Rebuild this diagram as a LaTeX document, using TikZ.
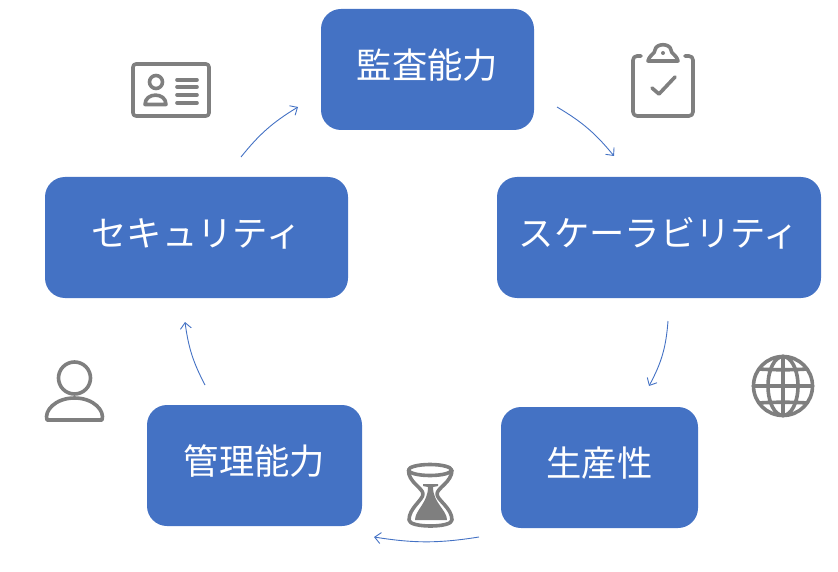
\documentclass[tikz,border=0pt]{standalone}
\usepackage{fontspec}
\usetikzlibrary{arrows.meta}
\setmainfont{Noto Sans CJK JP}
\newcommand{\boxfill}{boxblue}
\definecolor{boxblue}{HTML}{4472C4}
\definecolor{icongray}{HTML}{7F7F7F}
\tikzset{
    stagebox/.style = {shape = rectangle, rounded corners = 20pt, fill = \boxfill, text = white, minimum height = 121pt, inner sep = 0pt, text height = 30pt, text depth = 12pt, font = \fontsize{35.3}{35.3}\selectfont},
    cycleline/.style = {draw = boxblue, line width = 0.9pt, -{Straight Barb[length=6pt, width=11pt, line width=0.9pt]}},
    iconline/.style = {draw = icongray, line width = 3.6pt, line cap = round, line join = round}
}

\begin{document}
\begin{tikzpicture}[x=1pt, y=-1pt]
        \useasboundingbox (0,0) rectangle (838,572);
        \node[stagebox, minimum width = 213pt] (audit) at (427.5,69.5) {監査能力};
        \node[stagebox, minimum width = 324pt] (scale) at (659,237.5) {スケーラビリティ};
        \node[stagebox, minimum width = 197pt] (prod) at (599.5,467.5) {生産性};
        \node[stagebox, minimum width = 215pt] (manage) at (254.5,465.5) {管理能力};
        \node[stagebox, minimum width = 303pt] (secure) at (196.5,237.5) {セキュリティ};
        \coordinate (a1) at (557,107);
        \coordinate (a2) at (614,156);
        \coordinate (b1) at (668,321);
        \coordinate (b2) at (649,386);
        \coordinate (c1) at (479,537);
        \coordinate (c2) at (374,537);
        \coordinate (d1) at (205,385);
        \coordinate (d2) at (185,322);
        \coordinate (e1) at (241,157);
        \coordinate (e2) at (298,107);
        \draw[cycleline] (a1) to[bend left=10] (a2);
        \draw[cycleline] (b1) to[bend left=12] (b2);
        \draw[cycleline] (c1) to[bend left=9] (c2);
        \draw[cycleline] (d1) to[bend left=10] (d2);
        \draw[cycleline] (e1) to[bend left=10] (e2);
        % card
        \draw[iconline, rounded corners=3pt] (133,64) rectangle (209,116);
        \draw[iconline] (156,82) circle (6.5);
        \draw[iconline] (145,104.5) .. controls (145,92) and (166,92) .. (166,104.5) -- cycle;
        \foreach \y in {80,87,95,103} {
            \draw[iconline] (177,\y) -- (197,\y);
        }
        % clipboard
        \draw[iconline, rounded corners=4pt] (641,56) -- (633,56) -- (633,116) -- (693,116) -- (693,56) -- (685,56);
        \draw[iconline] (648,61) .. controls (650,54) and (655,54) .. (655,50) .. controls (656,43) and (670,43) .. (671,50) .. controls (671,54) and (676,54) .. (678,61) -- cycle;
        \fill[icongray] (663,53) circle (2);
        \draw[iconline] (652,88) -- (659,94) -- (675,77);
        % globe
        \draw[iconline] (783,386) circle (29.5);
        \draw[iconline] (783,386) ellipse (15 and 29.5);
        \draw[iconline] (783,356.5) -- (783,415.5);
        \draw[iconline] (753.5,386) -- (812.5,386);
        \draw[iconline] (759,369) .. controls (772,370) and (794,370) .. (807,369);
        \draw[iconline] (759,403) .. controls (772,402) and (794,402) .. (807,403);
        % hourglass
        \draw[iconline] (430,470) ellipse (21.5 and 5.5);
        \draw[iconline] (408.5,470) .. controls (408,482) and (423,488) .. (423,494) .. controls (423,500) and (409,508) .. (409,520) .. controls (409,528) and (452,528) .. (452,520) .. controls (452,508) and (437,500) .. (437,494) .. controls (437,488) and (452,482) .. (452,470);
        \fill[icongray] (423,484) -- (438,484) -- (438,486) -- (433,487) .. controls (433,503) and (447,510) .. (447,520) -- (415,520) .. controls (415,510) and (428,503) .. (428,487) -- (423,486) -- cycle;
        % person
        \draw[iconline] (74.5,378) circle (16);
        \draw[iconline] (47,420) .. controls (44,411) and (55,398) .. (74.5,398) .. controls (94,398) and (105,411) .. (102,420) -- cycle;
\end{tikzpicture}
\end{document}
